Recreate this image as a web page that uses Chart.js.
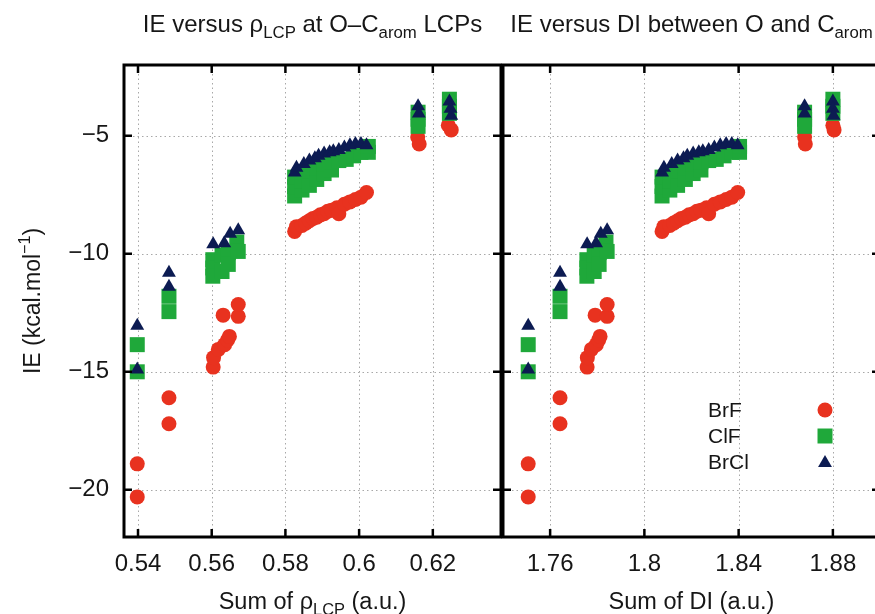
<!doctype html>
<html lang="en">
<head>
<meta charset="utf-8">
<title>IE versus rho(LCP) and DI</title>
<script src="https://cdn.jsdelivr.net/npm/chart.js@4.4.1/dist/chart.umd.min.js"></script>
<style>
  *{box-sizing:border-box;margin:0;padding:0}
  html,body{width:875px;height:614px;overflow:hidden;background:#fff}
  canvas{position:absolute;top:0;display:block}
  #rhoChart{left:0}
  #diChart{left:490px}
</style>
</head>
<body>
<canvas id="rhoChart" width="502" height="614"></canvas>
<canvas id="diChart" width="392" height="614"></canvas>
<script>
/* ---- data ---- */
const rhoTicks = [0.54, 0.56, 0.58, 0.6, 0.62];
const diTicks  = [1.76, 1.8, 1.84, 1.88];
const ieTicks  = [-20, -15, -10, -5];

// BrF (red circles)
const brfRho = [0.5398,0.5398, 0.5484,0.5484,
  0.5604,0.5605,0.5618,0.5635,0.5643,0.5648,0.5631,0.5672,0.5672,
  0.5825,0.5830,0.5845,0.5855,0.5865,0.5875,0.5885,0.5895,0.5905,0.5915,0.5925,0.5940,0.5945,0.5960,0.5975,0.5990,0.6005,0.6020,
  0.6159,0.6163,0.6242,0.6250];
const brfDI = [1.7507,1.7507, 1.7642,1.7642,
  1.7757,1.7758,1.7775,1.7796,1.7806,1.7812,1.7791,1.7842,1.7842,
  1.8075,1.8083,1.8108,1.8124,1.8141,1.8157,1.8174,1.8190,1.8207,1.8223,1.8240,1.8264,1.8273,1.8297,1.8322,1.8347,1.8371,1.8396,
  1.8680,1.8683,1.8800,1.8805];
const brfIE = [-18.9,-20.3, -16.1,-17.2,
  -14.8,-14.4,-14.05,-13.85,-13.65,-13.5,-12.6,-12.65,-12.15,
  -9.05,-8.85,-8.8,-8.7,-8.6,-8.5,-8.45,-8.35,-8.3,-8.2,-8.15,-8.05,-8.3,-7.9,-7.8,-7.7,-7.6,-7.4,
  -5.05,-5.35,-4.55,-4.75];

// ClF (green squares)
const clfRho = [0.5398,0.5398, 0.5484,0.5484,
  0.5603,0.5603,0.5603,0.5628,0.5628,0.5645,0.5645,0.5668,0.5672,
  0.5825,0.5825,0.5825,0.5845,0.5845,0.5845,0.5865,0.5865,0.5885,0.5885,0.5905,0.5905,0.5925,0.5925,0.5945,0.5965,0.5985,0.6005,0.6025,0.6025,
  0.6160,0.6160,0.6160,0.6245,0.6245,0.6245];
const clfDI = [1.7507,1.7507, 1.7642,1.7642,
  1.7756,1.7756,1.7756,1.7787,1.7787,1.7808,1.7808,1.7837,1.7842,
  1.8075,1.8075,1.8075,1.8108,1.8108,1.8108,1.8141,1.8141,1.8174,1.8174,1.8207,1.8207,1.8240,1.8240,1.8273,1.8305,1.8338,1.8371,1.8404,1.8404,
  1.8680,1.8680,1.8680,1.8800,1.8800,1.8800];
const clfIE = [-13.85,-15.0, -11.8,-12.45,
  -10.25,-10.6,-10.95,-10.05,-10.75,-9.95,-10.45,-9.5,-9.9,
  -7.55,-7.15,-6.75,-7.3,-6.9,-6.55,-7.1,-6.5,-6.85,-6.35,-6.6,-6.2,-6.45,-6.1,-6.05,-6.0,-5.85,-5.7,-5.7,-5.45,
  -4.0,-4.3,-4.6,-3.45,-3.75,-4.05];

// BrCl (navy triangles)
const brclRho = [0.5398,0.5398, 0.5484,0.5484,
  0.5604,0.5634,0.5650,0.5672,
  0.5825,0.5830,0.5850,0.5865,0.5880,0.5890,0.5905,0.5920,0.5930,0.5945,0.5960,0.5975,0.5990,0.6005,0.6020,
  0.6160,0.6162,0.6245,0.6248,0.6250];
const brclDI = [1.7507,1.7507, 1.7642,1.7642,
  1.7757,1.7795,1.7815,1.7842,
  1.8075,1.8083,1.8116,1.8141,1.8166,1.8182,1.8207,1.8231,1.8248,1.8273,1.8297,1.8322,1.8347,1.8371,1.8396,
  1.8680,1.8680,1.8800,1.8800,1.8803];
const brclIE = [-13.05,-14.9, -10.8,-11.4,
  -9.6,-9.55,-9.15,-9.0,
  -6.55,-6.35,-6.2,-6.05,-5.95,-5.85,-5.75,-5.7,-5.65,-5.6,-5.5,-5.4,-5.35,-5.35,-5.4,
  -3.75,-4.05,-3.55,-3.85,-4.15];

/* ---- look ---- */
const FONT = '"Liberation Sans", Arial, Helvetica, sans-serif';
const INK = '#161616';
const RED = '#e8321f', GREEN = '#1fa83a', NAVY = '#0c1b52';
Chart.defaults.font.family = FONT;
Chart.defaults.color = INK;

const pts = (xs, ys) => xs.map((x, i) => ({x, y: ys[i]}));
const minus = v => String(v).replace('-', '\u2212');

function series(xs) {
  return [
    {label: 'BrF',  data: pts(xs.brf,  brfIE),  pointStyle: 'circle',   pointRadius: 7.5,  backgroundColor: RED,   order: 3},
    {label: 'ClF',  data: pts(xs.clf,  clfIE),  pointStyle: 'rect',     pointRadius: 10.6, backgroundColor: GREEN, order: 2},
    {label: 'BrCl', data: pts(xs.brcl, brclIE), pointStyle: 'triangle', pointRadius: 8,    backgroundColor: NAVY,  order: 1}
  ].map(d => Object.assign(d, {pointBorderWidth: 0, pointHoverRadius: d.pointRadius, borderColor: d.backgroundColor}));
}

/* rich text with sub/superscripts: parts = [[text, 'sub'|'sup'|undefined], ...] */
function richDraw(ctx, parts, cx, base, size) {
  const fontFor = p => `${p[1] ? size * 0.7 : size}px ${FONT}`;
  let w = 0;
  parts.forEach(p => { ctx.font = fontFor(p); w += ctx.measureText(p[0]).width; });
  let x = cx - w / 2;
  ctx.textAlign = 'left';
  ctx.textBaseline = 'alphabetic';
  parts.forEach(p => {
    ctx.font = fontFor(p);
    const dy = p[1] === 'sub' ? size * 0.27 : p[1] === 'sup' ? -size * 0.42 : 0;
    ctx.fillText(p[0], x, base + dy);
    x += ctx.measureText(p[0]).width;
  });
}

const framePlugin = {
  id: 'frame',
  beforeDatasetsDraw(chart) {
    const {ctx, chartArea: a, scales: {x, y}} = chart;
    ctx.save();
    ctx.strokeStyle = '#a8a8a8';
    ctx.lineWidth = 1;
    ctx.setLineDash([1.5, 3]);
    ctx.beginPath();
    x.ticks.forEach(t => {
      const px = Math.round(x.getPixelForValue(t.value)) + 0.5;
      ctx.moveTo(px, a.top); ctx.lineTo(px, a.bottom);
    });
    y.ticks.forEach(t => {
      const py = Math.round(y.getPixelForValue(t.value)) + 0.5;
      ctx.moveTo(a.left, py); ctx.lineTo(a.right, py);
    });
    ctx.stroke();
    ctx.restore();
  },
  afterDatasetsDraw(chart, args, opts) {
    const {ctx, chartArea: a, scales: {x, y}} = chart;
    ctx.save();
    // frame + inward ticks on all four sides
    ctx.strokeStyle = '#000';
    ctx.lineWidth = 3;
    ctx.strokeRect(a.left, a.top, a.right - a.left, a.bottom - a.top);
    const tl = 8;
    ctx.lineWidth = 2.5;
    ctx.beginPath();
    x.ticks.forEach(t => {
      const px = x.getPixelForValue(t.value);
      ctx.moveTo(px, a.top); ctx.lineTo(px, a.top + tl);
      ctx.moveTo(px, a.bottom); ctx.lineTo(px, a.bottom - tl);
    });
    y.ticks.forEach(t => {
      const py = y.getPixelForValue(t.value);
      ctx.moveTo(a.left, py); ctx.lineTo(a.left + tl, py);
      ctx.moveTo(a.right, py); ctx.lineTo(a.right - tl, py);
    });
    ctx.stroke();

    // titles
    ctx.fillStyle = INK;
    const cx = (a.left + a.right) / 2;
    richDraw(ctx, opts.title, cx, 32, 24);
    richDraw(ctx, opts.xLabel, cx, 609, 23.5);
    if (opts.yLabel) {
      ctx.save();
      ctx.translate(40, (a.top + a.bottom) / 2);
      ctx.rotate(-Math.PI / 2);
      richDraw(ctx, opts.yLabel, 0, 0, 23);
      ctx.restore();
    }

    // legend: text left, marker right (gnuplot style)
    if (opts.legend) {
      const {textX, markX, top, step} = opts.legend;
      chart.data.datasets.forEach((d, i) => {
        const base = top + i * step;
        ctx.font = `21px ${FONT}`;
        ctx.fillStyle = INK;
        ctx.textAlign = 'left';
        ctx.textBaseline = 'alphabetic';
        ctx.fillText(d.label, textX, base);
        ctx.fillStyle = d.backgroundColor;
        const my = base - 7 + (d.pointStyle === 'triangle' ? 1 : 0);
        Chart.helpers.drawPoint(ctx, {pointStyle: d.pointStyle, radius: d.pointRadius, rotation: 0, borderWidth: 0}, markX, my);
      });
    }
    ctx.restore();
  }
};

function makeChart(id, xs, xMin, xMax, xTicks, showY, pad, frameOpts) {
  return new Chart(document.getElementById(id), {
    type: 'scatter',
    data: {datasets: series(xs)},
    options: {
      responsive: false,
      animation: false,
      layout: {autoPadding: false, padding: {top: 65, right: pad, left: 0, bottom: 0}},
      plugins: {legend: {display: false}, tooltip: {enabled: false}, frame: frameOpts},
      scales: {
        x: {
          type: 'linear', min: xMin, max: xMax,
          afterBuildTicks: s => { s.ticks = xTicks.map(v => ({value: v})); },
          afterFit: s => { s.height = 77; },
          grid: {display: false}, border: {display: false},
          ticks: {font: {size: 24}, color: INK, padding: 5, maxRotation: 0,
                  callback: v => String(+v.toFixed(2))}
        },
        y: {
          type: 'linear', min: -22, max: -2,
          afterBuildTicks: s => { s.ticks = ieTicks.map(v => ({value: v})); },
          afterFit: s => { s.width = showY ? 124 : 13; },
          grid: {display: false}, border: {display: false},
          ticks: {display: showY, font: {size: 24}, color: INK, padding: 7, callback: minus}
        }
      }
    },
    plugins: [framePlugin]
  });
}

makeChart('rhoChart', {brf: brfRho, clf: clfRho, brcl: brclRho}, 0.5362, 0.6385, rhoTicks, true, 1, {
  title: [['IE versus \u03c1'], ['LCP', 'sub'], [' at O\u2013C'], ['arom', 'sub'], [' LCPs']],
  xLabel: [['Sum of \u03c1'], ['LCP', 'sub'], [' (a.u.)']],
  yLabel: [['IE (kcal.mol'], ['\u22121', 'sup'], [')']]
});

makeChart('diChart', {brf: brfDI, clf: clfDI, brcl: brclDI}, 1.74, 1.90, diTicks, false, 2, {
  title: [['IE versus DI between O and C'], ['arom', 'sub']],
  xLabel: [['Sum of DI (a.u.)']],
  legend: {textX: 218, markX: 335, top: 417, step: 26}
});
</script>
</body>
</html>
